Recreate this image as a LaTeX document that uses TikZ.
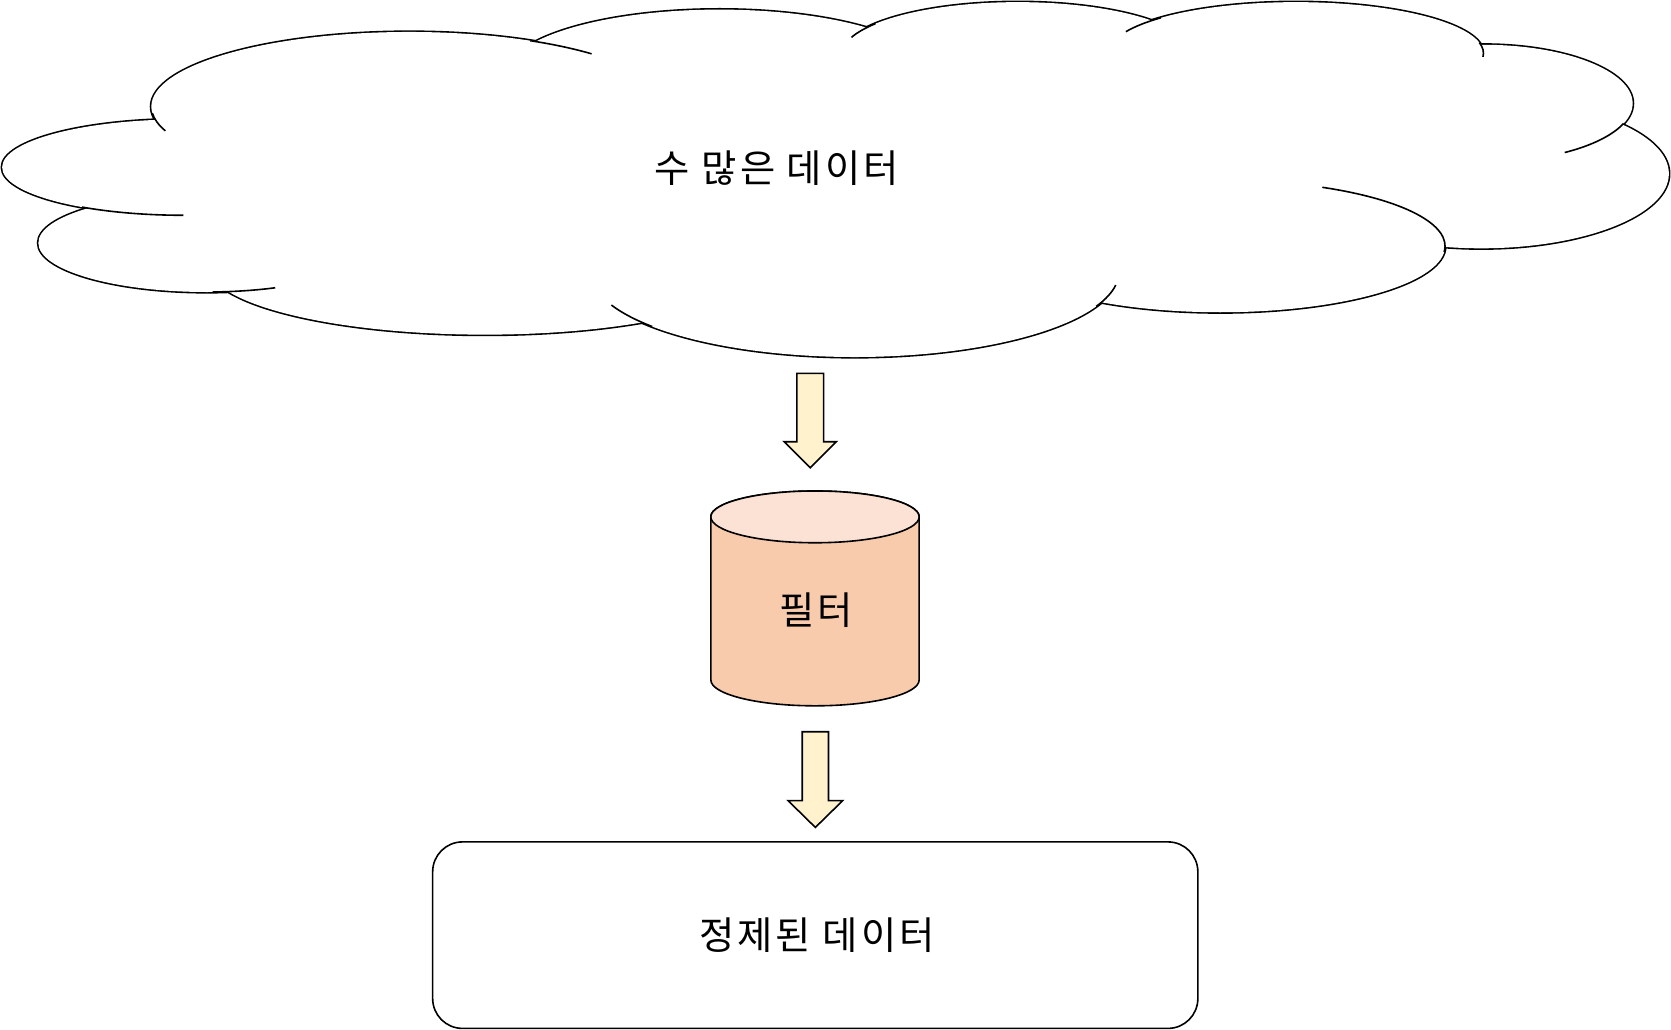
\documentclass[tikz,border=0pt]{standalone}
\usepackage{fontspec}
\newfontfamily\kr{Noto Sans CJK KR}[LetterSpace=8]
\definecolor{arrowfill}{HTML}{FFF2CC}
\definecolor{cylbody}{HTML}{F8CBAD}
\definecolor{cyltop}{HTML}{FBE2D5}
\tikzset{
  outline/.style={draw=black, line width=1.5pt},
  blockarrow/.style={outline, fill=arrowfill, line join=miter},
  label/.style={font=\kr\fontsize{36}{43}\selectfont, inner sep=0pt},
}
\def\lobelist{384/100/242/70, 675/70/200/61, 955/51/165/49, 1216/50/176/48, 1392/97/140/55, 1390/163/176/70, 1145/231/211/62, 802/255/248/80, 455/249/260/65, 194/228/158/46, 172/157/170/45}
\def\taillist{384/100/242/70/175/161, 384/100/242/70/-62/-45, 955/51/165/49/216/199, 1216/50/176/48/224/205, 1216/50/176/48/-12/4, 1392/97/140/55/20/57, 1145/231/211/62/5/-63, 802/255/248/80/24/9, 802/255/248/80/140/157, 194/228/158/46/88/66, 172/157/170/45/124/90}
\begin{document}
\begin{tikzpicture}[x=1pt, y=-1pt]
  \useasboundingbox (0,0) rectangle (1568,966.5);
  % cloud: union outline
  \foreach \cx/\cy/\rx/\ry in \lobelist
    \draw[line width=3pt] (\cx,\cy) ellipse [x radius=\rx, y radius=\ry];
  \fill[white] (384,100) -- (675,70) -- (955,51) -- (1216,50) -- (1392,97) -- (1390,163) -- (1145,231) -- (802,255) -- (455,249) -- (194,228) -- (172,157) -- cycle;
  \foreach \cx/\cy/\rx/\ry in \lobelist
    \fill[white] (\cx,\cy) ellipse [x radius=\rx, y radius=\ry];
  % cloud: inner arc tails
  \foreach \cx/\cy/\rx/\ry/\a/\b in \taillist
    \draw[line width=1.5pt] ({\cx+\rx*cos(\a)},{\cy+\ry*sin(\a)}) arc[start angle=\a, end angle=\b, x radius=\rx, y radius=\ry];
  \node[label] (many) at (729,158) {수 많은 데이터};
  % arrow 1
  \draw[blockarrow] (747.8,350.3) -- (747.8,414.5) -- (735.8,414.5) -- (760.3,438.9) -- (784.8,414.5) -- (772.8,414.5) -- (772.8,350.3) -- cycle;
  % cylinder
  \path[outline, fill=cylbody] (667,485) -- (667,638) arc[start angle=180, end angle=0, x radius=97.75, y radius=24.3] -- (862.5,485) arc[start angle=0, end angle=-180, x radius=97.75, y radius=24.3] -- cycle;
  \draw[outline, fill=cyltop] (764.75,485) ellipse [x radius=97.75, y radius=24.3];
  \node[label] (filter) at (766,573) {필터};
  % arrow 2
  \draw[blockarrow] (752.8,686.6) -- (752.8,751.3) -- (739.5,751.3) -- (765.1,776.4) -- (790.7,751.3) -- (777.4,751.3) -- (777.4,686.6) -- cycle;
  % refined data box
  \node[outline, rounded corners=28pt, minimum width=718pt, minimum height=175pt, inner sep=0pt] (refined) at (765,877.5) {};
  \node[label] (refinedtxt) at ([xshift=1.5pt]refined.center) {정제된 데이터};
\end{tikzpicture}
\end{document}
